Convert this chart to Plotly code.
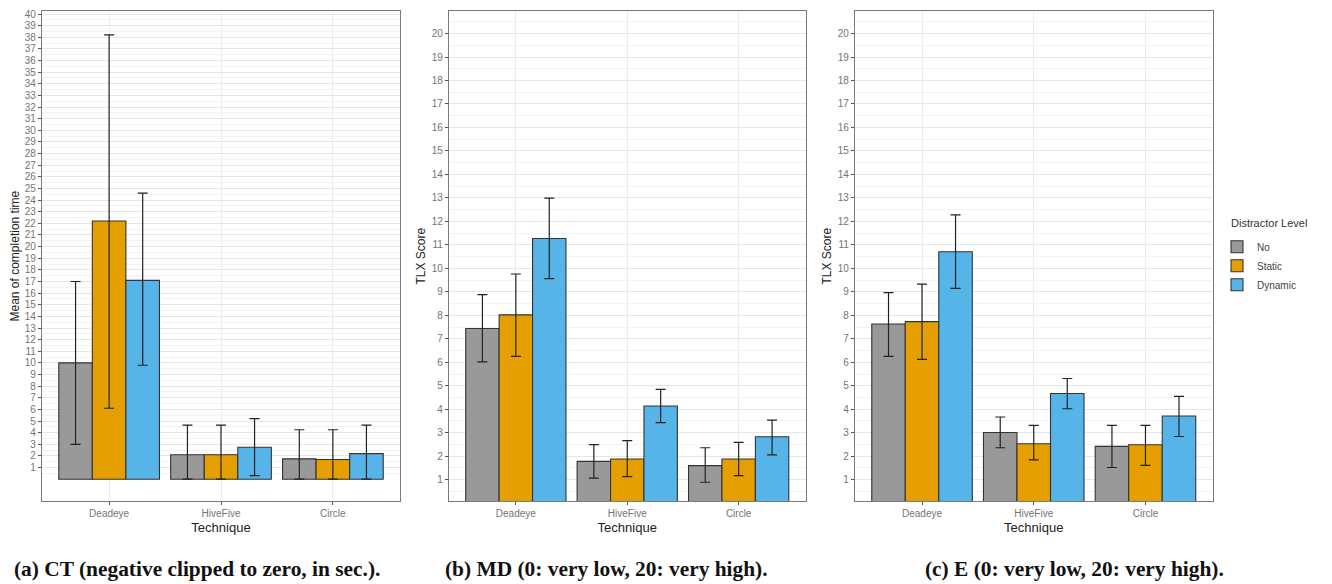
import plotly.graph_objects as go

# ---------------- data ----------------
techniques = ["Deadeye", "HiveFive", "Circle"]
levels = ["No", "Static", "Dynamic"]
level_colors = ["#999999", "#E69F00", "#56B4E9"]

# (a) CT - mean of completion time (sec), error bar bounds (negative clipped to zero)
ct_mean_no = [10.0, 2.1, 1.75]
ct_mean_static = [22.2, 2.1, 1.7]
ct_mean_dynamic = [17.1, 2.75, 2.2]
ct_low_no = [3.0, 0.0, 0.0]
ct_low_static = [6.1, 0.0, 0.0]
ct_low_dynamic = [9.8, 0.3, 0.0]
ct_high_no = [17.0, 4.65, 4.25]
ct_high_static = [38.2, 4.65, 4.25]
ct_high_dynamic = [24.6, 5.2, 4.65]

# (b) MD - TLX score
md_mean_no = [7.44, 1.78, 1.6]
md_mean_static = [8.02, 1.88, 1.88]
md_mean_dynamic = [11.27, 4.14, 2.83]
md_low_no = [6.02, 1.07, 0.89]
md_low_static = [6.25, 1.13, 1.17]
md_low_dynamic = [9.56, 3.43, 2.06]
md_high_no = [8.88, 2.49, 2.36]
md_high_static = [9.76, 2.66, 2.59]
md_high_dynamic = [12.99, 4.85, 3.54]

# (c) E - TLX score
e_mean_no = [7.63, 3.01, 2.42]
e_mean_static = [7.73, 2.53, 2.49]
e_mean_dynamic = [10.71, 4.67, 3.71]
e_low_no = [6.25, 2.36, 1.52]
e_low_static = [6.12, 1.84, 1.61]
e_low_dynamic = [9.15, 4.02, 2.84]
e_high_no = [8.97, 3.67, 3.31]
e_high_static = [9.33, 3.31, 3.31]
e_high_dynamic = [12.28, 5.31, 4.55]

ct_ticks = list(range(1, 41))
tlx_ticks = list(range(1, 21))

panels = [
    ("x", "y",
     [ct_mean_no, ct_mean_static, ct_mean_dynamic],
     [ct_low_no, ct_low_static, ct_low_dynamic],
     [ct_high_no, ct_high_static, ct_high_dynamic]),
    ("x2", "y2",
     [md_mean_no, md_mean_static, md_mean_dynamic],
     [md_low_no, md_low_static, md_low_dynamic],
     [md_high_no, md_high_static, md_high_dynamic]),
    ("x3", "y3",
     [e_mean_no, e_mean_static, e_mean_dynamic],
     [e_low_no, e_low_static, e_low_dynamic],
     [e_high_no, e_high_static, e_high_dynamic]),
]

fig = go.Figure()
for pi, (xa, ya, means, lows, highs) in enumerate(panels):
    for li, lvl in enumerate(levels):
        m = means[li]
        lo = lows[li]
        hi = highs[li]
        fig.add_trace(go.Bar(
            x=techniques, y=m, name=lvl,
            xaxis=xa, yaxis=ya,
            marker=dict(color=level_colors[li], line=dict(color="#333333", width=1.1)),
            error_y=dict(type="data", symmetric=False,
                         array=[h - v for h, v in zip(hi, m)],
                         arrayminus=[v - l for v, l in zip(m, lo)],
                         color="#222222", thickness=1.2, width=5),
            showlegend=(pi == 0), legendgroup=lvl,
        ))

# page body has an 8px margin: figure pixel = reference pixel - 8
OFF = 8
W, H = 1332 - OFF, 584 - OFF

def px(v):
    return (v - OFF) / W

def py(v):
    return 1 - (v - OFF) / H

ydom = [py(501), py(9)]
xdoms = [[px(42), px(400)], [px(449), px(805.5)], [px(855), px(1212.5)]]

tick_font = dict(family="Liberation Sans, Arial, sans-serif", size=10, color="#747474")
title_font = dict(family="Liberation Sans, Arial, sans-serif", size=13, color="#222222")

def xaxis_cfg(dom, anchor):
    return dict(domain=dom, anchor=anchor, type="category", range=[-0.6, 2.6],
                showline=True, mirror=True, linecolor="#7a7a7a", linewidth=1.3,
                ticks="outside", ticklen=3, tickcolor="#555555",
                showgrid=True, gridcolor="#ececec", gridwidth=1,
                tickfont=tick_font, title=dict(text="Technique", font=title_font, standoff=4),
                zeroline=False)

def yaxis_cfg(anchor, rng, tvals, title):
    minor_vals = [v + 0.5 for v in range(0, tvals[-1] + 1)]
    return dict(domain=ydom, anchor=anchor, range=rng,
                tickmode="array", tickvals=tvals, ticktext=[str(v) for v in tvals],
                showline=True, mirror=True, linecolor="#7a7a7a", linewidth=1.3,
                ticks="outside", ticklen=3, tickcolor="#555555",
                ticklabeloverflow="allow",
                showgrid=True, gridcolor="#e6e6e6", gridwidth=1,
                minor=dict(tickmode="array", tickvals=minor_vals, showgrid=True,
                           gridcolor="#f3f3f3", gridwidth=1, ticks=""),
                tickfont=tick_font, zeroline=False,
                title=dict(text=title, font=dict(family="Liberation Sans, Arial, sans-serif", size=12, color="#222222"), standoff=3))

fig.update_layout(
    width=W, height=H,
    margin=dict(l=0, r=0, t=0, b=0),
    paper_bgcolor="white", plot_bgcolor="white",
    barmode="group", bargap=0.1, bargroupgap=0.0,
    xaxis=xaxis_cfg(xdoms[0], "y"),
    xaxis2=xaxis_cfg(xdoms[1], "y2"),
    xaxis3=xaxis_cfg(xdoms[2], "y3"),
    yaxis=yaxis_cfg("x", [-1.9, 40.26], ct_ticks, "Mean of completion time"),
    yaxis2=yaxis_cfg("x2", [0.08, 20.96], tlx_ticks, "TLX Score"),
    yaxis3=yaxis_cfg("x3", [0.08, 20.96], tlx_ticks, "TLX Score"),
    legend=dict(x=px(1217), y=py(231), xanchor="left", yanchor="top",
                font=dict(family="Liberation Sans, Arial, sans-serif", size=10, color="#444444"),
                tracegroupgap=0, itemwidth=30, bgcolor="rgba(0,0,0,0)"),
)

# legend heading
fig.add_annotation(text="Distractor Level", x=px(1229), y=py(222),
                   xref="paper", yref="paper", showarrow=False,
                   xanchor="left", yanchor="middle",
                   font=dict(family="Liberation Sans, Arial, sans-serif", size=11, color="#333333"))

cap_font = dict(family="Liberation Serif, Times New Roman, serif", size=21.4, color="#111111")
captions = [
    ("(a) CT (negative clipped to zero, in sec.).", 197),
    ("(b) MD (0: very low, 20: very high).", 606),
    ("(c) E (0: very low, 20: very high).", 1074),
]
for txt, cx in captions:
    fig.add_annotation(text="<b>" + txt + "</b>", x=px(cx), y=py(569),
                       xref="paper", yref="paper", showarrow=False,
                       xanchor="center", yanchor="middle", font=cap_font)

fig.write_html("out.html")
